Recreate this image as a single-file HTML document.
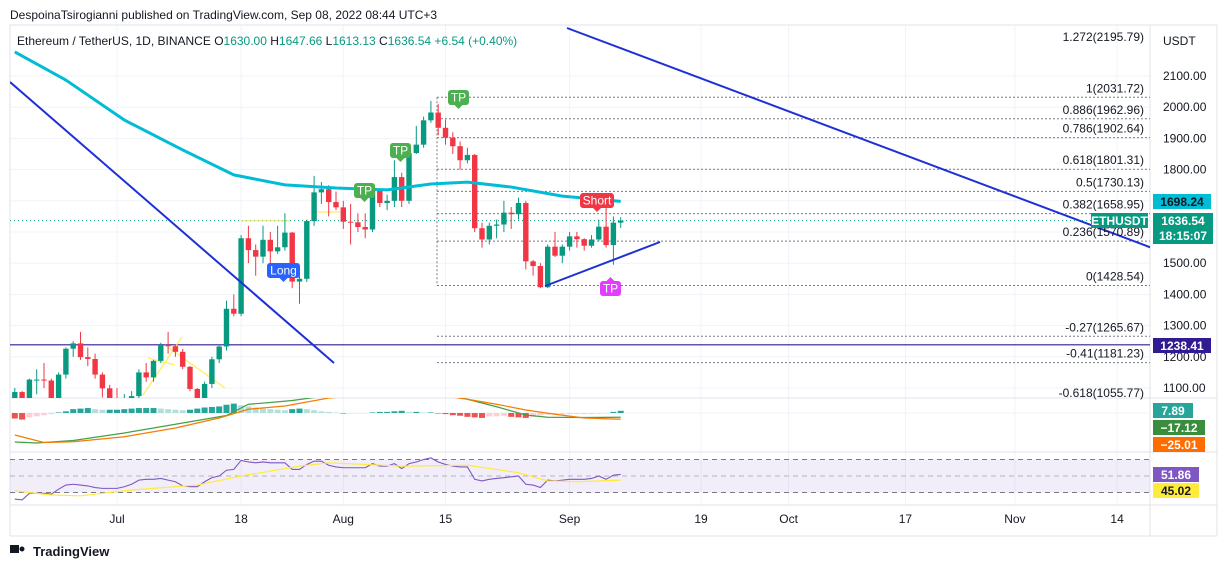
<!DOCTYPE html>
<html><head><meta charset="utf-8"><style>
body{margin:0;background:#fff;font-family:"Liberation Sans",sans-serif}
svg{display:block}
text{font-family:"Liberation Sans",sans-serif}
</style></head><body>
<svg id="c" width="1231" height="569" viewBox="0 0 1231 569" xmlns="http://www.w3.org/2000/svg">
<rect width="1231" height="569" fill="#fff"/>
<text x="10" y="19" font-size="12" fill="#131722">DespoinaTsirogianni published on TradingView.com, Sep 08, 2022 08:44 UTC+3</text>
<g id="grid"></g>
<g id="panes"></g>
<g id="price"></g>
<g id="macd"></g>
<g id="rsi"></g>
<g id="axis"></g>
<text x="17" y="45" font-size="12" fill="#131722">Ethereum / TetherUS, 1D, BINANCE  <tspan fill="#131722">O</tspan><tspan fill="#089981">1630.00</tspan>  H<tspan fill="#089981">1647.66</tspan>  L<tspan fill="#089981">1613.13</tspan>  C<tspan fill="#089981">1636.54 +6.54 (+0.40%)</tspan></text>
<g>
<rect x="10" y="545" width="9" height="8" fill="#131722"/><circle cx="22" cy="549" r="2.5" fill="#131722"/>
<text x="33" y="556" font-size="13" fill="#131722" font-weight="bold">TradingView</text></g>
</svg>
<script>
const NS='http://www.w3.org/2000/svg';
const closes=[1087,995,1127,1127,1124,1051,1143,1226,1243,1199,1193,1143,1099,1067,
1060,1067,1074,1150,1134,1187,1238,1234,1216,1168,1097,1038,1113,1192,1233,1354,1338,1580,1542,1521,1575,1538,1551,1598,1441,1450,1635,1727,1737,1696,1679,
1633,1631,1616,1608,1734,1693,1700,1776,1700,1853,1880,1958,1983,1934,1902,1875,1830,1847,1612,1576,1620,1624,1662,1657,1693,1506,1491,1423,1553,1524,1553,
1586,1577,1556,1576,1617,1558,1630,1636.54];
const opens=[1068,1087,995,1127,1127,1124,1051,1143,1226,1243,1199,1193,1143,1099,
1067,1060,1067,1074,1150,1134,1187,1238,1234,1216,1168,1097,1038,1113,1192,1233,1354,1338,1580,1542,1521,1575,1538,1551,1598,1441,1450,1635,1727,1737,1696,
1679,1633,1631,1616,1608,1734,1693,1700,1776,1700,1853,1880,1958,1983,1934,1902,1875,1830,1847,1612,1576,1620,1624,1662,1657,1693,1506,1491,1423,1553,1524,
1553,1586,1577,1556,1576,1617,1558,1630];
const highs=[1100,1090,1130,1160,1180,1130,1150,1230,1250,1280,1230,1210,1150,1110,
1100,1080,1090,1160,1180,1190,1245,1280,1240,1225,1170,1100,1120,1200,1240,1380,1400,1590,1620,1560,1620,1600,1620,1660,1600,1470,1640,1780,1760,1750,1730,
1700,1690,1660,1660,1750,1740,1720,1830,1790,1860,1940,1970,2020,2010,1960,1920,1890,1870,1850,1630,1630,1640,1700,1680,1710,1700,1510,1500,1560,1600,1560,
1600,1600,1580,1590,1640,1680,1650,1647.66];
const lows=[1050,880,990,1080,1100,1040,1040,1130,1200,1190,1170,1130,1070,1040,
1040,1040,1050,1060,1120,1120,1180,1210,1200,1160,1090,1020,1010,1100,1180,1220,1330,1330,1500,1460,1500,1500,1530,1540,1420,1370,1440,1620,1690,1650,1670,
1610,1560,1600,1580,1600,1680,1670,1680,1680,1690,1850,1870,1950,1910,1880,1850,1800,1820,1600,1550,1560,1580,1600,1610,1640,1480,1460,1420,1420,1520,1500,
1540,1550,1540,1550,1570,1550,1495,1613.13];
const maIdx=[0,7,15,23,30,37,44,51,57,62,68,75,83];
const maVal=[2177,2087,1959,1863,1783,1751,1741,1735,1754,1760,1744,1715,1698];
const priceTicks=[1100,1200,1300,1400,1500,1600,1700,1800,1900,2000,2100];
const dateLabels=['Jul','18','Aug','15','Sep','19','Oct','17','Nov','14'];
const dateIdx=[14,31,45,59,76,94,106,122,137,151];
const fibNames=['1.272','1','0.886','0.786','0.618','0.5','0.382','0.236','0','-0.27','-0.41','-0.618'];
const fibPrices=[2195.79,2031.72,1962.96,1902.64,1801.31,1730.13,1658.95,1570.89,1428.54,1265.67,1181.23,1055.77];
const histVals=[-20,-24,-16,-12,-8,-4,2,6,14,16,18,14,12,12,12,14,16,18,18,18,16,14,12,10,12,16,20,22,24,30,34,28,24,20,16,14,12,10,14,16,14,10,6,4,2,-2,-2,-2,-2,2,4,4,6,8,4,4,2,2,-2,-4,-8,-10,-14,-16,-18,-12,-12,-10,-14,-16,-18,-14,-8,-6,-6,-5,-4,-4,-4,-4,-3,-2,4,8];
const macdIdx=[0,3,8,15,20,25,29,32,35,38,41,46,52,58,62,66,70,73,78,83];
const macdVal=[-116,-120,-110,-80,-55,-30,-10,35,42,50,62,75,85,85,55,25,-8,-17,-18,-17];
const sigIdx=[0,4,8,15,22,28,32,37,43,50,56,62,66,70,74,78,83];
const sigVal=[-88,-118,-115,-95,-60,-20,15,28,60,75,80,55,35,12,-5,-20,-25];
const rsiVals=[22,21,29,29,29,28,34,39,40,39,38,36,35,35,35,37,40,45,46,46,47,45,43,38,37,37,43,48,50,57,58,69,67,66,67,66,66,66,58,58,64,68,68,63,61,60,60,60,60,65,62,62,65,59,65,67,70,72,67,64,62,61,61,46,44,46,47,48,49,50,40,39,36,45,44,45,46,46,46,47,50,46,51,51.86];
const rsiMaIdx=[0,5,9,16,25,31,39,43,53,62,69,73,77,83];
const rsiMaVal=[32,27,26,33,39,50,62,66,62,63,54,44,43,45];

const X=i=>14.8+i*7.3;
const Y=p=>76+(2100-p)*0.312;
const MY=v=>413-v*0.25;
const RY=r=>476-(r-50)*0.825;
function el(t,a,p){const e=document.createElementNS(NS,t);for(const k in a)e.setAttribute(k,a[k]);p.appendChild(e);return e;}
const grid=document.getElementById('grid'),price=document.getElementById('price'),macd=document.getElementById('macd'),rsi=document.getElementById('rsi'),axis=document.getElementById('axis'),panes=document.getElementById('panes');

// clip
const defs=el('defs',{},document.getElementById('c'));
const cp=el('clipPath',{id:'pc'},defs);el('rect',{x:10,y:25,width:1140,height:373},cp);
const cm=el('clipPath',{id:'mc'},defs);el('rect',{x:10,y:398,width:1140,height:54},cm);
price.setAttribute('clip-path','url(#pc)');macd.setAttribute('clip-path','url(#mc)');

// grid
priceTicks.forEach(p=>{const l=el('line',{x1:10,x2:1150,y1:Y(p),y2:Y(p),stroke:'#f0f3fa'},grid);

});
dateIdx.forEach((d,k)=>{const l=el('line',{x1:X(d),x2:X(d),y1:25,y2:505,stroke:'#f0f3fa'},grid);


const t=el('text',{x:X(d),y:523,'font-size':12,'text-anchor':'middle',fill:'#131722'},axis);t.textContent=dateLabels[k];

});

// pane frames
[[10,25,1217,25],[10,398,1217,398],[10,452,1217,452],[10,505,1217,505],[10,25,10,536],[1150,25,1150,536],[1217,25,1217,536],[10,536,1217,536]].forEach(a=>{
el('line',{x1:a[0],y1:a[1],x2:a[2],y2:a[3],stroke:'#e0e3eb'},panes);});

// fib
fibPrices.forEach((p,k)=>{const y=Y(p);
if(k>0){const l=el('line',{x1:437,x2:1150,y1:y,y2:y,stroke:'#787b86','stroke-dasharray':'2,2'},price);

}
const t=el('text',{x:1144,y:y-5,'font-size':12,'text-anchor':'end',fill:'#131722'},axis);t.textContent=fibNames[k]+'('+p.toFixed(2)+')';

});
el('line',{x1:437,x2:437,y1:Y(2031.72),y2:Y(1428.54),stroke:'#787b86','stroke-dasharray':'2,2'},price);

// horizontal levels
let hl=el('line',{x1:10,x2:1150,y1:Y(1238.41),y2:Y(1238.41),stroke:'#311b92','stroke-width':1.2},price);


let cl=el('line',{x1:10,x2:1150,y1:Y(1636.54),y2:Y(1636.54),stroke:'#089981','stroke-dasharray':'1,3'},price);



// yellow annotations
[[241,221,290,221],[313,212,340,212],[143,395,182,337],[165,345,225,388],[148,358,175,365]].forEach(a=>el('line',{x1:a[0],y1:a[1],x2:a[2],y2:a[3],stroke:'#ffeb3b','stroke-width':1.3,opacity:.8},price));

// candles
closes.forEach((c,i)=>{const o=opens[i],up=c>=o,col=up?'#089981':'#f23645',x=X(i);
const g=el('g',{},price);


el('line',{x1:x,x2:x,y1:Y(highs[i]),y2:Y(lows[i]),stroke:col,'stroke-width':1},g);
const t=Y(Math.max(o,c)),b=Y(Math.min(o,c));
el('rect',{x:x-2.7,y:t,width:5.4,height:Math.max(1,b-t),fill:col},g);});

// MA
let pts=maIdx.map((d,k)=>X(d)+','+Y(maVal[k])).join(' ');
let ma=el('polyline',{points:pts,fill:'none',stroke:'#00bcd4','stroke-width':3,'stroke-linejoin':'round'},price);



// trend lines
[[10,82,334,363],[567,28,1152,248],[545,286,660,242]].forEach(a=>{const l=el('line',{x1:a[0],y1:a[1],x2:a[2],y2:a[3],stroke:'#1e30d6','stroke-width':2},price);

});

// tags
function tag(x,y,w,txt,col,down,name){const g=el('g',{},price);


el('rect',{x:x,y:y,width:w,height:15,rx:3,fill:col},g);
if(down)el('polygon',{points:`${x+w/2-4},${y+15} ${x+w/2+4},${y+15} ${x+w/2},${y+19}`,fill:col},g);
else el('polygon',{points:`${x+w/2-4},${y} ${x+w/2+4},${y} ${x+w/2},${y-4}`,fill:col},g);
const t=el('text',{x:x+w/2,y:y+11.5,'font-size':12,'text-anchor':'middle',fill:'#fff'},g);t.textContent=txt;}
tag(448,90,21,'TP','#4caf50',true,'tp-tag');
tag(390,143,21,'TP','#4caf50',true,'tp-tag');
tag(354,183,21,'TP','#4caf50',true,'tp-tag');
tag(267,263,33,'Long','#2962ff',true,'long-tag');
tag(580,193,34,'Short','#f23645',true,'short-tag');
tag(600,281,21,'TP','#e040fb',false,'tp-tag');

// MACD
el('line',{x1:10,x2:1150,y1:MY(0),y2:MY(0),stroke:'#f0f3fa'},macd);
histVals.forEach((v,i)=>{const prev=i?histVals[i-1]:0;let col;
if(v>=0)col=v>=prev?'#26a69a':'#b2dfdb';else col=v<prev?'#ef5350':'#ffcdd2';
const r=el('rect',{x:X(i)-3,y:Math.min(MY(0),MY(v*1.1)),width:6,height:Math.abs(v*1.1*0.25),fill:col},macd);

});
let ml=el('polyline',{points:macdIdx.map((d,k)=>X(d)+','+MY(macdVal[k])).join(' '),fill:'none',stroke:'#43a047','stroke-width':1.2},macd);


let sl=el('polyline',{points:sigIdx.map((d,k)=>X(d)+','+MY(sigVal[k])).join(' '),fill:'none',stroke:'#f57c00','stroke-width':1.2},macd);



// RSI
el('rect',{x:10,y:RY(70),width:1140,height:RY(30)-RY(70),fill:'#7e57c2','fill-opacity':0.1},rsi);
[70,50,30].forEach(r=>el('line',{x1:10,x2:1150,y1:RY(r),y2:RY(r),stroke:r==50?'#b2b5be':'#787b86','stroke-dasharray':'5,4'},rsi));
let rl=el('polyline',{points:rsiVals.map((v,i)=>X(i)+','+RY(v)).join(' '),fill:'none',stroke:'#7e57c2','stroke-width':1.1},rsi);


let rm=el('polyline',{points:rsiMaIdx.map((d,k)=>X(d)+','+RY(rsiMaVal[k])).join(' '),fill:'none',stroke:'#ffeb3b','stroke-width':1.2},rsi);



// axis labels
const us=el('text',{x:1163,y:45,'font-size':12,fill:'#131722'},axis);us.textContent='USDT';
priceTicks.forEach(p=>{const t=el('text',{x:1163,y:Y(p)+4,'font-size':12,fill:'#131722'},axis);t.textContent=p.toFixed(2);

});
function box(x,y,w,h,col,txt,fg,name){const g=el('g',{},axis);


el('rect',{x:x,y:y,width:w,height:h,fill:col},g);
txt.forEach((s,k)=>{const t=el('text',{x:x+w/2,y:y+12+k*15,'font-size':12,'text-anchor':'middle',fill:fg,'font-weight':'bold'},g);t.textContent=s;});}
box(1153,194,58,15,'#00bcd4',['1698.24'],'#131722','ma-price-box');
box(1091,213,57,15,'#089981',['ETHUSDT'],'#fff','symbol-tag');
box(1153,213,60,31,'#089981',['1636.54','18:15:07'],'#fff','last-price-box');
box(1153,338,58,15,'#311b92',['1238.41'],'#fff','level-box');
box(1153,403,40,15,'#26a69a',['7.89'],'#fff','macd-hist-box');
box(1153,420,52,15,'#388e3c',['\u221217.12'],'#fff','macd-box');
box(1153,437,52,15,'#ff6d00',['\u221225.01'],'#fff','signal-box');
box(1153,467,46,15,'#7e57c2',['51.86'],'#fff','rsi-box');
box(1153,483,46,15,'#ffeb3b',['45.02'],'#131722','rsi-ma-box');
</script>
</body></html>
